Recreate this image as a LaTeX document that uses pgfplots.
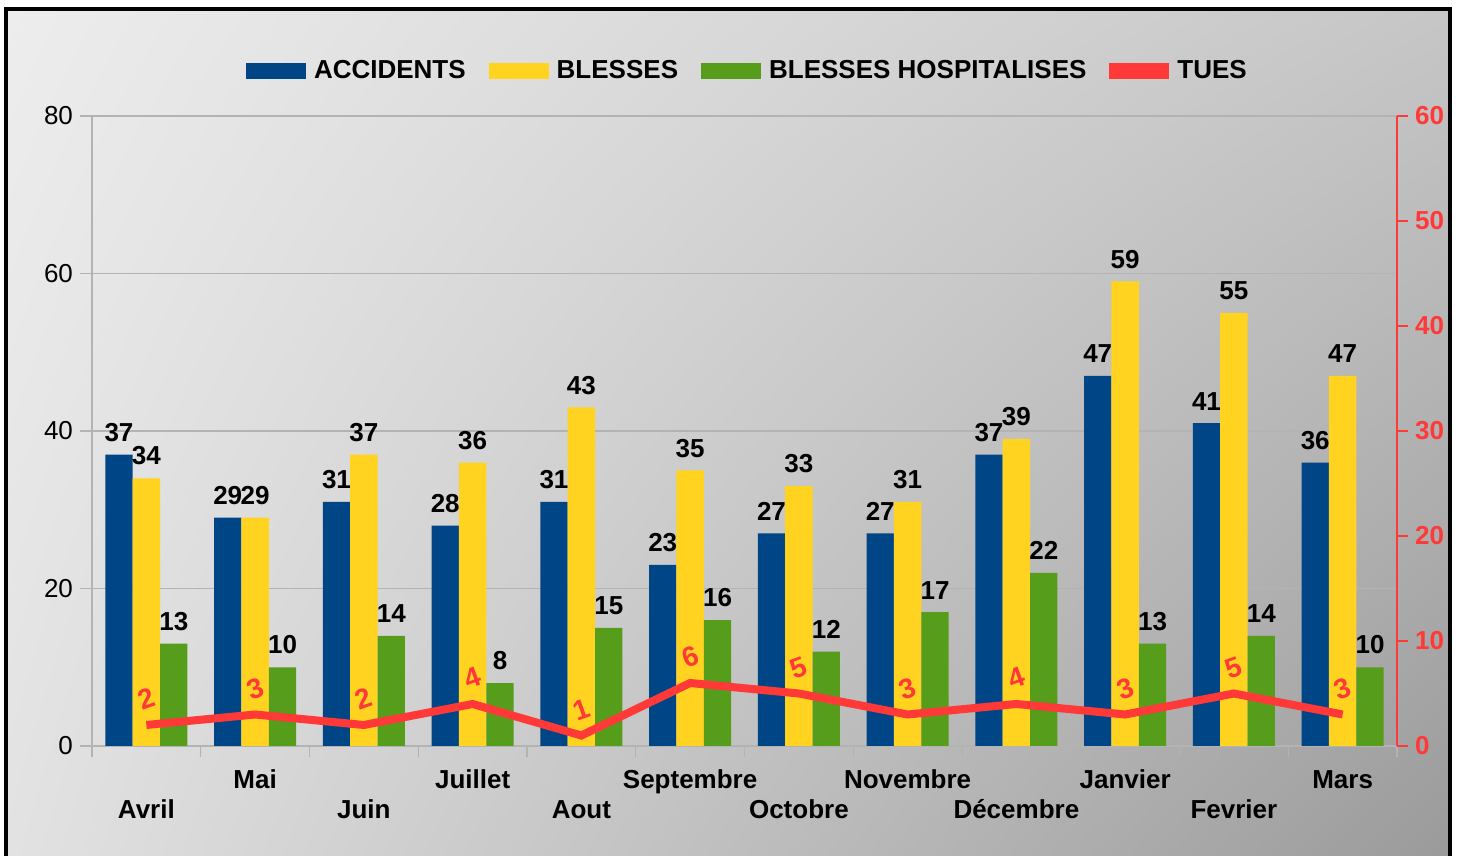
\documentclass[border=0pt]{standalone}
\usepackage{pgfplots}
\pgfplotsset{compat=1.18}
\usetikzlibrary{shadings}
\usepackage{fontspec}
\setmainfont{Liberation Sans}
\definecolor{cblue}{HTML}{004586}
\definecolor{cyellow}{HTML}{FFD320}
\definecolor{cgreen}{HTML}{579D1C}
\definecolor{cred}{HTML}{FF3838}
\definecolor{cgrid}{HTML}{B3B3B3}
\definecolor{bgul}{HTML}{EDEDED}
\definecolor{bgur}{HTML}{C6C6C6}
\definecolor{bgll}{HTML}{E2E2E2}
\definecolor{bglr}{HTML}{9A9A9A}
\pgfplotsset{rectlegend/.style={legend image code/.code={\fill (0pt,-4pt) rectangle (30pt,4pt);}}}
\newcommand{\lf}{\fontsize{13}{15}\selectfont}
\begin{document}
\begin{tikzpicture}
\path[use as bounding box] (-46pt,-55pt) rectangle (684.5pt,373pt);
\shade[upper left=bgul, upper right=bgur, lower left=bgll, lower right=bglr] (-42.75pt,-60pt) rectangle (679pt,368.25pt);
\draw[line width=2pt] (-42.75pt,-60pt) -- (-42.75pt,368.25pt) -- (679pt,368.25pt) -- (679pt,-60pt);
\begin{axis}[
  at={(0pt,0pt)}, anchor=south west, scale only axis,
  width=652.5pt, height=315pt,
  /pgf/number format/assume math mode=true,
  ymin=0, ymax=80, ytick={0,20,...,80},
  xmin=-0.5, xmax=11.5,
  ybar=0pt, bar width=13.7pt,
  axis x line*=bottom, axis y line*=left,
  axis line style={cgrid, line width=0.6pt},
  ymajorgrids, grid style={cgrid, line width=0.6pt},
  tick align=outside,
  major tick length=6pt, minor tick length=5.5pt,
  ytick style={cgrid, line width=0.6pt},
  yticklabel style={font=\lf, black},
  xtick={0,2,...,10},
  xticklabels={Avril,Juin,Aout,Octobre,Décembre,Fevrier},
  extra x ticks={1,3,...,11},
  extra x tick labels={Mai,Juillet,Septembre,Novembre,Janvier,Mars},
  extra x tick style={xticklabel style={yshift=15pt}},
  major x tick style={draw=none},
  minor xtick={-0.5,0.5,...,11.5},
  minor x tick style={cgrid, line width=0.6pt},
  xticklabel style={font=\bfseries\lf, black, anchor=base, yshift=-30.2pt},
  nodes near coords,
  every node near coord/.append style={font=\bfseries\lf, black, yshift=3pt},
  legend style={at={(0.503,1.0714)}, anchor=center, draw=none, fill=none,
    legend columns=4, font=\bfseries\lf,
    /tikz/every odd column/.append style={column sep=2pt},
    /tikz/every even column/.append style={column sep=9.5pt}},
]
\addplot[fill=cblue, draw=none, rectlegend] coordinates {(0,37) (1,29) (2,31) (3,28) (4,31) (5,23) (6,27) (7,27) (8,37) (9,47) (10,41) (11,36)};
\addlegendentry{ACCIDENTS}
\addplot[fill=cyellow, draw=none, rectlegend] coordinates {(0,34) (1,29) (2,37) (3,36) (4,43) (5,35) (6,33) (7,31) (8,39) (9,59) (10,55) (11,47)};
\addlegendentry{BLESSES}
\addplot[fill=cgreen, draw=none, rectlegend] coordinates {(0,13) (1,10) (2,14) (3,8) (4,15) (5,16) (6,12) (7,17) (8,22) (9,13) (10,14) (11,10)};
\addlegendentry{BLESSES HOSPITALISES}
\addlegendimage{fill=cred, draw=none, rectlegend}
\addlegendentry{TUES}
\end{axis}
\begin{axis}[
  at={(0pt,0pt)}, anchor=south west, scale only axis,
  width=652.5pt, height=315pt,
  /pgf/number format/assume math mode=true,
  xmin=-0.5, xmax=11.5,
  ymin=0, ymax=60, ytick={0,10,...,60},
  axis y line*=right, axis x line=none,
  y axis line style={cred, line width=0.6pt},
  tick align=outside, major tick length=5.5pt,
  ytick style={cred, line width=0.6pt},
  yticklabel style={font=\bfseries\lf, cred},
]
\addplot[cred, line width=4pt, mark=none,
  nodes near coords,
  every node near coord/.append style={font=\bfseries\fontsize{14}{16}\selectfont, cred, anchor=center, yshift=13pt, rotate=20}]
  coordinates {(0,2) (1,3) (2,2) (3,4) (4,1) (5,6) (6,5) (7,3) (8,4) (9,3) (10,5) (11,3)};
\end{axis}
\end{tikzpicture}
\end{document}
